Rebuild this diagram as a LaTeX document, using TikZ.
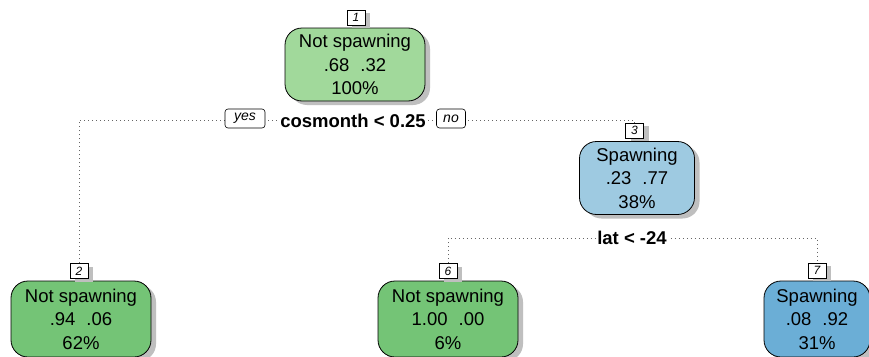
\documentclass[tikz,border=0pt]{standalone}
\usepackage{fontspec}
\setmainfont{Liberation Sans}
\usetikzlibrary{shadows}

\definecolor{greenlight}{RGB}{161,217,155}
\definecolor{greenmid}{RGB}{116,196,118}
\definecolor{bluelight}{RGB}{158,202,225}
\definecolor{bluemid}{RGB}{107,174,214}

\tikzset{
  leaf/.style={draw=black, line width=0.8pt, rounded corners=17pt,
    align=center, inner sep=0pt,
    font=\fontsize{18.5}{23.5}\selectfont,
    drop shadow={shadow xshift=5pt, shadow yshift=-4pt, fill=black!25, opacity=1}},
  idbox/.style={draw=black, fill=white, line width=0.6pt,
    minimum width=18pt, minimum height=15pt, inner sep=0pt,
    font=\fontsize{12}{12}\selectfont\itshape,
    drop shadow={shadow xshift=5pt, shadow yshift=-3pt, fill=black!25, opacity=1}},
  answer/.style={draw=black, fill=white, line width=0.6pt, rounded corners=3pt,
    inner sep=0pt, minimum height=19pt,
    font=\fontsize{14}{14}\selectfont\itshape},
  splitlabel/.style={fill=white, inner sep=1.5pt,
    font=\fontsize{18.5}{18.5}\selectfont\bfseries},
  branch/.style={draw=black!60, line width=1pt, dash pattern=on 1pt off 3pt}
}

\begin{document}
\begin{tikzpicture}[x=1pt,y=-1pt]
  \useasboundingbox (0,0) rectangle (869,356);
  \fill[white] (0,0) rectangle (869,356);

  % tree nodes
  \node[leaf, fill=greenlight, minimum width=140pt, minimum height=73pt] (n1) at (355,64.5)
    {Not spawning\\.68\hspace{11pt}.32\\100\%};
  \node[leaf, fill=bluelight, minimum width=115pt, minimum height=73pt] (n3) at (637,178)
    {Spawning\\.23\hspace{11pt}.77\\38\%};
  \node[leaf, fill=greenmid, minimum width=140pt, minimum height=76pt] (n2) at (81,319)
    {Not spawning\\.94\hspace{11pt}.06\\62\%};
  \node[leaf, fill=greenmid, minimum width=140pt, minimum height=76pt] (n6) at (448,319)
    {Not spawning\\1.00\hspace{11pt}.00\\6\%};
  \node[leaf, fill=bluemid, minimum width=106pt, minimum height=76pt] (n7) at (817,319)
    {Spawning\\.08\hspace{11pt}.92\\31\%};

  % node numbers
  \node[idbox] (id1) at (356,17.5) {1};
  \node[idbox] (id3) at (634.5,130.5) {3};
  \node[idbox] (id2) at (79,271) {2};
  \node[idbox] (id6) at (448,271) {6};
  \node[idbox] (id7) at (817,270.5) {7};

  % branches
  \coordinate (s1) at (355,120.5);
  \coordinate (s3) at (632,238);
  \draw[branch] (id2.north) |- (s1) -| (id3.north);
  \draw[branch] (id6.north) |- (s3) -| (id7.north);

  % split labels
  \node[splitlabel] (q1) at (353,120.5) {cosmonth < 0.25};
  \node[answer, minimum width=40pt] (yes) at (245,118.5) {yes};
  \node[answer, minimum width=29pt] (no) at (451,118.5) {no};
  \node[splitlabel] (q3) at (632,238) {lat < -24};
\end{tikzpicture}
\end{document}
